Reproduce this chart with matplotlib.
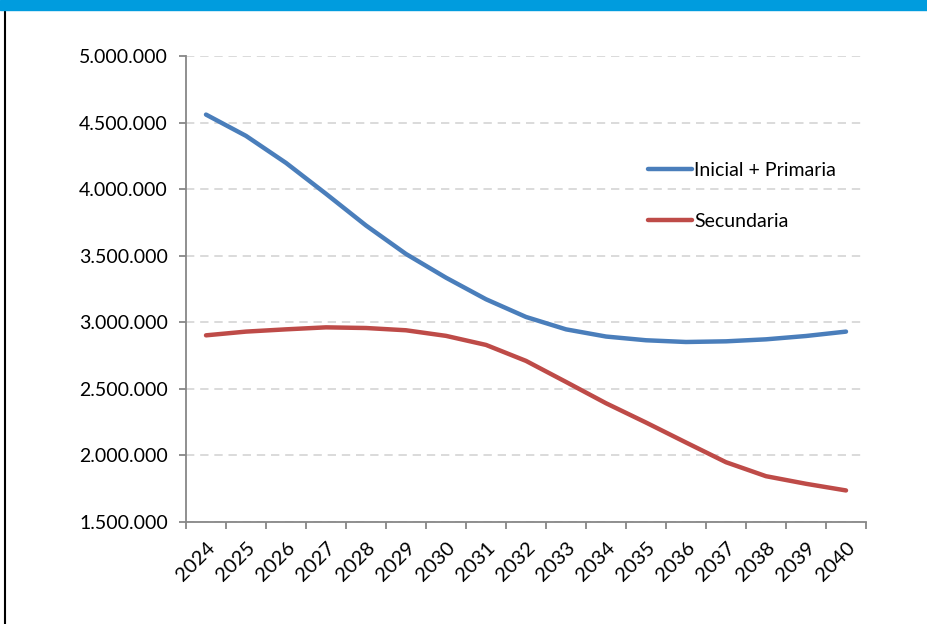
import matplotlib.pyplot as plt
import matplotlib.ticker as mticker
from matplotlib.patches import Rectangle
from matplotlib.lines import Line2D

plt.rcParams['font.family'] = ['Lato', 'DejaVu Sans']

years = [str(y) for y in range(2024, 2041)]
inicial_primaria = [4560000, 4400000, 4197000, 3965000, 3727000, 3513000, 3335000,
                    3173000, 3040000, 2947000, 2893000, 2865000, 2852000, 2857000,
                    2872000, 2897000, 2930000]
secundaria = [2902000, 2930000, 2947000, 2962000, 2957000, 2940000, 2898000,
              2830000, 2710000, 2552000, 2392000, 2247000, 2097000, 1949000,
              1844000, 1787000, 1737000]

blue = '#4A7EBB'
red = '#BE4B48'
axis_grey = '#878787'

fig = plt.figure(figsize=(9.28, 6.24), dpi=100)
ax = fig.add_axes([186 / 928, 1 - 522 / 624, 680 / 928, 466 / 624])

x = range(len(years))
ax.plot(x, inicial_primaria, color=blue, lw=3.2, solid_capstyle='round',
        solid_joinstyle='round', label='Inicial + Primaria')
ax.plot(x, secundaria, color=red, lw=3.2, solid_capstyle='round',
        solid_joinstyle='round', label='Secundaria')

ax.set_xlim(-0.5, len(years) - 0.5)
ax.set_ylim(1500000, 5000000)

# y axis: dotted thousands, dashed grid
ax.yaxis.set_major_locator(mticker.MultipleLocator(500000))
ax.yaxis.set_major_formatter(
    mticker.FuncFormatter(lambda v, p: f'{int(v):,}'.replace(',', '.')))
ax.grid(axis='y', color='#D4D4D4', lw=1.2, ls=(0, (5, 3.5)))
ax.set_axisbelow(True)

# x axis: labels centred on categories, ticks between them
ax.set_xticks(list(x))
ax.set_xticklabels(years, rotation=45, ha='right', va='top',
                   rotation_mode='anchor')
ax.set_xticks([i - 0.5 for i in range(len(years) + 1)], minor=True)
ax.tick_params(axis='x', which='major', length=0, pad=12, labelsize=14.5,
               labelcolor='black')
ax.tick_params(axis='x', which='minor', length=5, width=1.3, color=axis_grey)
ax.tick_params(axis='y', length=5, width=1.3, color=axis_grey, pad=8,
               labelsize=14, labelcolor='black')

for side in ['top', 'right']:
    ax.spines[side].set_visible(False)
for side in ['left', 'bottom']:
    ax.spines[side].set_color(axis_grey)
    ax.spines[side].set_linewidth(1.3)

ax.legend(loc='center left', bbox_to_anchor=(638 / 928, 1 - 196 / 624),
          bbox_transform=fig.transFigure, frameon=False, fontsize=14,
          handlelength=2.3, handletextpad=0.1, labelspacing=1.75,
          borderpad=0)

# header band and left frame line
fig.patches.append(Rectangle((0, 1 - 10 / 624), 1, 10 / 624,
                             transform=fig.transFigure, color='#009CDE',
                             zorder=5))
fig.lines.append(Line2D([5.5 / 928, 5.5 / 928], [0, 1 - 10 / 624],
                        transform=fig.transFigure, color='black', lw=1.5))

fig.savefig('out.png', dpi=100)
